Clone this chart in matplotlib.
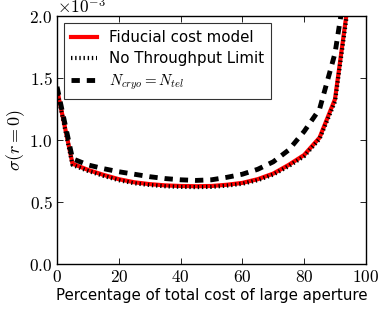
import numpy as np
import matplotlib
matplotlib.use('Agg')
import matplotlib.pyplot as plt
from matplotlib.ticker import FuncFormatter

plt.rcParams['mathtext.fontset'] = 'cm'
plt.rcParams['font.family'] = 'DejaVu Sans'
plt.rcParams['lines.scale_dashes'] = False

# percentage of total cost spent on large aperture
pct = [0, 5, 10, 15, 20, 25, 30, 35, 40, 45, 50, 55, 60, 65, 70, 75, 80, 85, 90, 95]
# sigma(r=0), in units of 1e-3
fiducial = [1.41, 0.81, 0.76, 0.72, 0.685, 0.66, 0.645, 0.635, 0.63, 0.628,
            0.63, 0.64, 0.655, 0.685, 0.73, 0.80, 0.88, 1.02, 1.33, 2.25]
no_limit = [1.40, 0.80, 0.752, 0.712, 0.677, 0.652, 0.638, 0.628, 0.623, 0.621,
            0.623, 0.633, 0.648, 0.677, 0.722, 0.79, 0.87, 1.01, 1.31, 2.22]
n_equal = [1.43, 0.85, 0.80, 0.77, 0.745, 0.725, 0.705, 0.69, 0.68, 0.675,
           0.68, 0.70, 0.725, 0.765, 0.825, 0.92, 1.07, 1.25, 1.70, 2.5]

fig = plt.figure(figsize=(3.88, 3.10), dpi=100)
ax = fig.add_axes([0.147, 0.148, 0.796, 0.800])

ax.plot(pct, fiducial, color='red', lw=3, label='Fiducial cost model')
ax.plot(pct, no_limit, color='black', lw=3, dashes=(1, 2), label='No Throughput Limit')
ax.plot(pct, n_equal, color='black', lw=3.5, dashes=(6, 5), label=r'$N_{cryo} = N_{tel}$')

ax.set_xlim(0, 100)
ax.set_ylim(0, 2.0)
ax.set_xticks(np.arange(0, 101, 20))
ax.set_yticks(np.arange(0, 2.01, 0.5))
ax.xaxis.set_major_formatter(FuncFormatter(lambda v, p: r'$%d$' % v))
ax.yaxis.set_major_formatter(FuncFormatter(lambda v, p: r'$%.1f$' % v))
ax.tick_params('both', direction='in', top=True, right=True, length=4, width=0.6, labelsize=12.5, pad=3)
for s in ax.spines.values():
    s.set_linewidth(1.0)

ax.text(0.0, 0.995, r'$\times10^{-3}$', transform=ax.transAxes, fontsize=12.5,
        ha='left', va='bottom')

ax.set_xlabel('Percentage of total cost of large aperture', fontsize=10.8, labelpad=1)
ax.set_ylabel(r'$\sigma(r=0)$', fontsize=13, labelpad=2)

leg = ax.legend(loc='upper left', fontsize=10.8, fancybox=False, handlelength=1.7,
                borderpad=0.5, labelspacing=0.4, borderaxespad=0.45, handletextpad=0.8)
leg.get_frame().set_edgecolor('black')
leg.get_frame().set_linewidth(0.8)

plt.savefig('out.png', dpi=100)
